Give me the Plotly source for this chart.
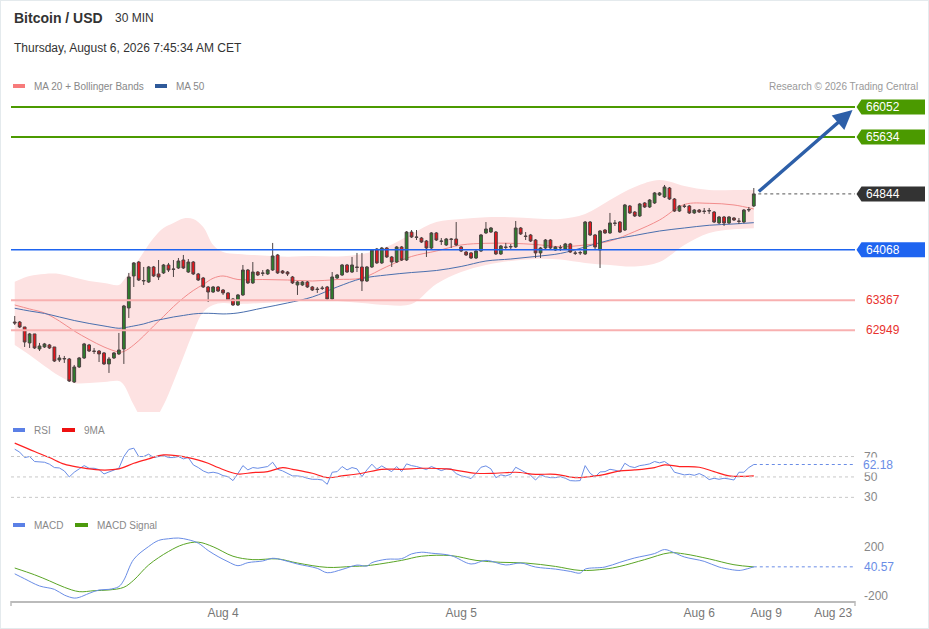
import plotly.graph_objects as go

W, H = 929, 629
FONT = "Liberation Sans, Arial, sans-serif"

# ---------------- data (30 min bars, index 0 = Aug 3 03:00) ----------------
bar_idx = list(range(150))
opens = [63063, 63063, 62994, 62772, 62897, 62688, 62716, 62744, 62716, 62535,
         62549, 62549, 62229, 62438, 62563, 62744, 62660, 62660, 62633, 62480,
         62563, 62619, 62688, 63258, 63703, 63897, 63633, 63619, 63828, 63731,
         63745, 63856, 63800, 63814, 63925, 63758, 63897, 63731, 63675, 63550,
         63480, 63550, 63508, 63467, 63383, 63300, 63439, 63786, 63606, 63758,
         63745, 63731, 63786, 63995, 63772, 63758, 63689, 63578, 63578, 63619,
         63550, 63522, 63536, 63550, 63383, 63675, 63717, 63856, 63758, 63828,
         63828, 63633, 63828, 64078, 63884, 64092, 63967, 63897, 64106, 63925,
         64314, 64245, 64231, 64189, 64092, 64301, 64189, 64134, 64217, 64217,
         64106, 64036, 64023, 63953, 64050, 64301, 64314, 64314, 64009, 64106,
         64106, 64106, 64370, 64259, 64273, 64203, 64023, 64092, 64203, 64064,
         64092, 64078, 64148, 64023, 64023, 64009, 64453, 64273, 64064, 64342,
         64301, 64440, 64453, 64342, 64676, 64592, 64537, 64718, 64662, 64718,
         64829, 64801, 64926, 64773, 64606, 64676, 64676, 64579, 64620, 64606,
         64606, 64592, 64440, 64523, 64440, 64509, 64467, 64453, 64620, 64676]
highs = [63147, 63077, 62994, 62911, 62897, 62772, 62772, 62758, 62716, 62605,
         62591, 62563, 62466, 62577, 62772, 62758, 62702, 62674, 62646, 62577,
         62646, 62911, 63300, 63745, 63897, 63911, 63828, 63842, 63842, 63925,
         63870, 63884, 63925, 63953, 63995, 63939, 63911, 63745, 63689, 63564,
         63564, 63564, 63522, 63480, 63397, 63453, 63856, 63800, 63897, 63772,
         63786, 63800, 64162, 64009, 63786, 63772, 63703, 63633, 63633, 63633,
         63564, 63550, 63564, 63564, 63758, 63731, 63870, 63870, 63967, 64023,
         64023, 63842, 64078, 64092, 64106, 64106, 63981, 64120, 64120, 64328,
         64342, 64342, 64245, 64203, 64314, 64314, 64231, 64231, 64231, 64453,
         64120, 64050, 64036, 64064, 64287, 64453, 64384, 64328, 64134, 64162,
         64148, 64467, 64384, 64314, 64287, 64217, 64106, 64217, 64217, 64120,
         64134, 64162, 64162, 64050, 64050, 64467, 64467, 64287, 64342, 64356,
         64579, 64481, 64467, 64704, 64690, 64606, 64718, 64731, 64773, 64870,
         64870, 64968, 64940, 64787, 64690, 64704, 64690, 64634, 64634, 64648,
         64648, 64606, 64537, 64537, 64537, 64523, 64509, 64634, 64662, 64926]
lows = [63022, 62980, 62716, 62702, 62688, 62660, 62702, 62688, 62507, 62507,
        62494, 62229, 62216, 62424, 62549, 62646, 62619, 62507, 62466, 62355,
        62549, 62605, 62480, 63119, 63550, 63633, 63578, 63606, 63689, 63647,
        63731, 63758, 63689, 63800, 63800, 63745, 63717, 63633, 63536, 63341,
        63467, 63480, 63439, 63355, 63286, 63286, 63425, 63592, 63592, 63703,
        63703, 63717, 63772, 63731, 63731, 63703, 63592, 63439, 63564, 63536,
        63494, 63467, 63508, 63369, 63369, 63661, 63703, 63745, 63745, 63758,
        63494, 63619, 63814, 63870, 63870, 63953, 63828, 63884, 63911, 63911,
        64231, 64203, 64162, 63967, 64078, 64189, 64134, 64120, 64092, 64120,
        64036, 63981, 63939, 63939, 64036, 64287, 64301, 63995, 63995, 64064,
        64064, 64092, 64273, 64203, 64175, 63953, 63953, 64078, 64078, 64050,
        64050, 64064, 64023, 63995, 63995, 63995, 64259, 64078, 63814, 64287,
        64287, 64398, 64301, 64328, 64565, 64523, 64523, 64648, 64648, 64704,
        64815, 64787, 64759, 64592, 64592, 64648, 64565, 64565, 64579, 64565,
        64565, 64440, 64426, 64398, 64426, 64467, 64426, 64440, 64592, 64662]
closes = [63050, 62994, 62785, 62897, 62702, 62730, 62758, 62702, 62521, 62563,
          62555, 62243, 62438, 62563, 62758, 62660, 62655, 62619, 62480, 62549,
          62633, 62674, 63286, 63689, 63884, 63647, 63640, 63828, 63703, 63689,
          63856, 63786, 63795, 63911, 63814, 63897, 63731, 63647, 63550, 63480,
          63550, 63494, 63467, 63369, 63300, 63439, 63786, 63606, 63758, 63717,
          63740, 63786, 63981, 63745, 63745, 63731, 63606, 63619, 63619, 63550,
          63508, 63515, 63530, 63383, 63689, 63717, 63856, 63758, 63856, 63822,
          63633, 63828, 64064, 63884, 64092, 63967, 63897, 64106, 63925, 64314,
          64245, 64240, 64175, 64092, 64301, 64203, 64185, 64217, 64212, 64134,
          64050, 63995, 63953, 64050, 64273, 64356, 64370, 64009, 64120, 64100,
          64112, 64370, 64287, 64252, 64189, 64023, 64092, 64203, 64092, 64106,
          64098, 64148, 64036, 64018, 64028, 64453, 64273, 64106, 64328, 64301,
          64440, 64434, 64314, 64690, 64579, 64537, 64704, 64662, 64759, 64857,
          64857, 64940, 64773, 64606, 64676, 64670, 64579, 64620, 64592, 64600,
          64612, 64453, 64523, 64440, 64523, 64481, 64462, 64620, 64626, 64844]

band_idx = [0, 3, 6, 9, 12, 15, 18, 21, 22, 24, 26, 28, 30, 32, 34, 36, 38, 40, 42, 45,
            50, 55, 60, 65, 70, 75, 80, 85, 90, 95, 100, 105, 110, 115, 120, 125, 130,
            135, 140, 145, 149]
bb_upper = [63623, 63703, 63731, 63731, 63682, 63633, 63606, 63578, 63647, 63828,
            64036, 64231, 64370, 64440, 64502, 64495, 64384, 64134, 64036, 64009,
            63988, 63971, 63981, 63974, 64009, 64110, 64287, 64453, 64495, 64519,
            64519, 64502, 64495, 64565, 64759, 64940, 65037, 64954, 64898, 64898, 64898]
ma20 = [63300, 63244, 63189, 63077, 62938, 62820, 62716, 62646, 62653, 62744,
        62869, 63008, 63140, 63276, 63397, 63501, 63585, 63671, 63703, 63654,
        63654, 63647, 63633, 63654, 63675, 63832, 63974, 64050, 64134, 64157,
        64157, 64141, 64110, 64134, 64189, 64321, 64481, 64697, 64713, 64690, 64634]
bb_lower = [62744, 62605, 62452, 62313, 62216, 62216, 62229, 62243, 62188, 61909,
            61701, 61701, 61909, 62229, 62577, 62924, 63202, 63300, 63328, 63314,
            63328, 63341, 63369, 63355, 63328, 63300, 63314, 63592, 63758, 63856,
            63911, 63939, 63932, 63884, 63856, 63835, 63897, 64134, 64301, 64352, 64366]
ma50 = [63254, 63216, 63182, 63133, 63084, 63043, 63008, 62976, 62983, 63008,
        63036, 63077, 63105, 63133, 63154, 63175, 63184, 63182, 63175, 63189,
        63258, 63328, 63411, 63550, 63668, 63717, 63751, 63779, 63835, 63911,
        63939, 63974, 64016, 64106, 64203, 64266, 64328, 64370, 64408, 64426, 64444]

rsi = [77.2, 74.3, 69.0, 70.0, 65.1, 65.1, 64.4, 62.5, 59.2, 58.8,
       55.9, 50.0, 54.6, 57.9, 61.1, 58.5, 58.5, 57.2, 52.9, 54.9,
       56.6, 58.5, 70.0, 76.9, 78.2, 70.0, 70.0, 72.3, 69.0, 70.0,
       71.0, 69.0, 69.0, 70.0, 67.7, 69.0, 61.8, 59.2, 55.9, 53.9,
       54.6, 53.6, 51.3, 50.3, 46.4, 53.3, 61.1, 56.9, 59.2, 58.5,
       59.2, 60.2, 64.4, 57.5, 55.9, 53.6, 51.0, 51.0, 50.3, 48.7,
       47.7, 47.7, 47.0, 42.8, 54.6, 55.2, 60.2, 56.9, 59.2, 57.9,
       50.3, 56.9, 62.5, 57.5, 60.8, 57.9, 55.2, 60.2, 55.2, 62.8,
       61.1, 60.2, 58.5, 57.2, 60.2, 58.2, 56.2, 57.9, 57.9, 53.3,
       51.0, 50.0, 48.4, 53.6, 59.5, 60.8, 57.9, 49.3, 52.0, 51.0,
       52.6, 59.5, 56.9, 54.9, 51.6, 47.0, 52.0, 50.3, 49.3, 49.3,
       50.3, 48.7, 46.4, 46.1, 46.4, 61.1, 53.6, 50.0, 54.9, 55.2,
       57.5, 56.6, 55.2, 63.4, 60.2, 59.2, 61.1, 61.8, 62.8, 65.1,
       63.8, 65.1, 61.8, 54.6, 53.3, 52.0, 52.6, 51.6, 53.3, 51.0,
       47.4, 48.7, 47.7, 48.7, 48.0, 47.0, 54.6, 54.6, 59.2, 62.18]
rsi_ma_idx = [0, 4, 7, 10, 13, 17, 21, 24, 27, 30, 35, 39, 41, 45, 48, 51, 54, 56, 60, 63,
              66, 70, 74, 78, 82, 87, 93, 97, 101, 105, 109, 113, 117, 119, 122, 125, 129,
              131, 134, 138, 141, 144, 149]
rsi_ma = [83.1, 74.9, 69.0, 62.5, 59.5, 56.9, 57.9, 63.4, 67.7, 71.6, 69.0, 63.4, 59.2,
          52.9, 54.3, 55.2, 59.2, 57.5, 53.6, 49.3, 51.0, 53.6, 57.5, 57.5, 58.5, 57.9,
          53.6, 53.6, 54.6, 52.6, 52.6, 49.3, 51.0, 52.6, 55.9, 56.9, 59.2, 61.8, 60.2,
          59.5, 55.2, 51.0, 51.0]

macd_idx = [0, 2, 5, 8, 10, 12, 13, 15, 17, 19, 21, 22, 24, 27, 29, 31, 33, 35, 37, 39,
            41, 43, 45, 47, 50, 52, 54, 57, 61, 63, 66, 69, 71, 72, 75, 78, 80, 82, 84, 88,
            92, 95, 99, 102, 105, 109, 112, 114, 115, 119, 122, 125, 129, 131, 133, 135,
            139, 142, 146, 147, 149]
macd = [-17, -58, -117, -145, -192, -217, -211, -178, -150, -145, -122, -69, 103, 208,
        258, 272, 278, 264, 236, 175, 125, 83, 50, 75, 89, 111, 97, 64, 28, -8, 19, 55,
        47, 75, 103, 108, 147, 161, 153, 133, 64, 94, 56, 72, 39, 22, 3, -11, 22, 39, 78,
        114, 150, 183, 156, 122, 86, 39, 11, 17, 40.57]
signal_idx = [0, 4, 7, 10, 13, 16, 19, 22, 24, 27, 31, 34, 37, 40, 44, 48, 53, 57, 63, 68,
              71, 78, 82, 88, 93, 98, 103, 109, 114, 119, 122, 127, 132, 135, 140, 145, 149]
macd_signal = [31, -25, -75, -128, -164, -156, -150, -128, -69, 56, 167, 225, 244, 206,
               128, 100, 106, 72, 36, 44, 50, 94, 128, 133, 94, 78, 72, 44, 11, 22, 44,
               100, 156, 147, 106, 58, 40]

resistances = [66052, 65634]
pivot = 64068
supports = [63367, 62949]
last_price = 64844
target_price = 66010
tick_idx = [42, 90, 138, 151.5, 165]
tick_labels = ["Aug 4", "Aug 5", "Aug 6", "Aug 9", "Aug 23"]
rsi_levels = [70, 50, 30]
macd_levels = [200, -200]

# ---------------- layout geometry ----------------
X_DOM = [11 / W, 855 / W]
X_RNG = [-0.75, 169.4]
P_DOM = [1 - 412 / H, 1 - 97 / H]
P_RNG = [61812, 66191]
R_DOM = [1 - 505 / H, 1 - 440 / H]
R_RNG = [22.5, 86.2]
M_DOM = [1 - 601 / H, 1 - 535 / H]
M_RNG = [-241, 303]


def to_paper(v, rng, dom):
    return dom[0] + (v - rng[0]) / (rng[1] - rng[0]) * (dom[1] - dom[0])


GREEN = "#4b9a00"
BLUE = "#1e64f0"
PINK = "#f8b0b0"
IND_BLUE = "#6a8de6"

fig = go.Figure()

# bollinger band fill + moving averages (bottom layer)
fig.add_trace(go.Scatter(x=band_idx, y=bb_upper, mode="lines", line=dict(width=0, shape="spline"),
                         hoverinfo="skip", showlegend=False))
fig.add_trace(go.Scatter(x=band_idx, y=bb_lower, mode="lines", line=dict(width=0, shape="spline"),
                         fill="tonexty", fillcolor="#fde2e2", hoverinfo="skip", showlegend=False))
fig.add_trace(go.Scatter(x=band_idx, y=ma20, mode="lines",
                         line=dict(color="#f28c8c", width=1, shape="spline"), showlegend=False))
fig.add_trace(go.Scatter(x=band_idx, y=ma50, mode="lines",
                         line=dict(color="#4a6fae", width=1, shape="spline"), showlegend=False))

# candles on an overlaying axis so they sit above the band fill
fig.add_trace(go.Candlestick(
    x=bar_idx, open=opens, high=highs, low=lows, close=closes, yaxis="y4",
    increasing=dict(line=dict(color="#4d4343", width=1), fillcolor="#2b7f2b"),
    decreasing=dict(line=dict(color="#4d4343", width=1), fillcolor="#e8141b"),
    whiskerwidth=0, showlegend=False, hoverinfo="skip"))

# RSI panel
fig.add_trace(go.Scatter(x=bar_idx, y=rsi, mode="lines", yaxis="y2",
                         line=dict(color=IND_BLUE, width=1), showlegend=False))
fig.add_trace(go.Scatter(x=rsi_ma_idx, y=rsi_ma, mode="lines", yaxis="y2",
                         line=dict(color="#ff2020", width=1.2, shape="spline"), showlegend=False))

# MACD panel
fig.add_trace(go.Scatter(x=signal_idx, y=macd_signal, mode="lines", yaxis="y3",
                         line=dict(color="#5aa526", width=1, shape="spline"), showlegend=False))
fig.add_trace(go.Scatter(x=macd_idx, y=macd, mode="lines", yaxis="y3",
                         line=dict(color=IND_BLUE, width=1, shape="spline"), showlegend=False))

shapes = []
annotations = []


def hline(y, yref, color, width, dash="solid", x0=None):
    shapes.append(dict(type="line", xref="paper" if x0 is None else "x", yref=yref,
                       x0=X_DOM[0] if x0 is None else x0,
                       x1=X_DOM[1] if x0 is None else X_RNG[1],
                       y0=y, y1=y, line=dict(color=color, width=width, dash=dash)))


def tag(level, color):
    yc = to_paper(level, P_RNG, P_DOM)
    hh = 7.5 / H
    xt, xl, xr = 856.5 / W, 861.5 / W, 925 / W
    shapes.append(dict(type="path", xref="paper", yref="paper",
                       path=f"M {xt},{yc} L {xl},{yc + hh} L {xr},{yc + hh} L {xr},{yc - hh} L {xl},{yc - hh} Z",
                       fillcolor=color, line=dict(width=0)))
    annotations.append(dict(xref="paper", yref="paper", x=864 / W, y=yc, text=str(level),
                            showarrow=False, xanchor="left", yanchor="middle",
                            font=dict(color="white", size=12, family=FONT)))


for r in resistances:
    hline(r, "y", GREEN, 2)
    tag(r, GREEN)
hline(pivot, "y", BLUE, 1.5)
tag(pivot, BLUE)
for s in supports:
    hline(s, "y", PINK, 2)
    annotations.append(dict(xref="paper", yref="paper", x=864 / W, y=to_paper(s, P_RNG, P_DOM),
                            text=str(s), showarrow=False, xanchor="left", yanchor="middle",
                            font=dict(color="#e8322e", size=12, family=FONT)))
hline(last_price, "y", "#555555", 1, "dot", x0=bar_idx[-1] + 0.9)
tag(last_price, "#333333")

# projection arrow
annotations.append(dict(x=168.9, y=target_price, ax=bar_idx[-1] + 0.7, ay=last_price + 15,
                        xref="x", yref="y", axref="x", ayref="y", text="", showarrow=True,
                        arrowhead=2, arrowsize=1.1, arrowwidth=3.5, arrowcolor="#2d5fa8"))

# RSI levels
for lv in rsi_levels:
    hline(lv, "y2", "#c8c8c8", 1, "dot", x0=X_RNG[0])
    annotations.append(dict(xref="paper", yref="paper", x=862 / W, y=to_paper(lv, R_RNG, R_DOM),
                            text=str(lv), showarrow=False, xanchor="left", yanchor="middle",
                            font=dict(color="#888888", size=12, family=FONT)))
hline(rsi[-1], "y2", IND_BLUE, 1, "dot", x0=bar_idx[-1])
annotations.append(dict(xref="paper", yref="paper", x=862 / W, y=to_paper(rsi[-1], R_RNG, R_DOM),
                        text=f"{rsi[-1]:.2f}", showarrow=False, xanchor="left", yanchor="middle",
                        bgcolor="white", borderpad=0,
                        font=dict(color=IND_BLUE, size=12, family=FONT)))

# MACD levels
for lv in macd_levels:
    annotations.append(dict(xref="paper", yref="paper", x=862 / W, y=to_paper(lv, M_RNG, M_DOM),
                            text=str(lv), showarrow=False, xanchor="left", yanchor="middle",
                            font=dict(color="#888888", size=12, family=FONT)))
hline(macd[-1], "y3", IND_BLUE, 1, "dot", x0=macd_idx[-1])
annotations.append(dict(xref="paper", yref="paper", x=862 / W, y=to_paper(macd[-1], M_RNG, M_DOM),
                        text=f"{macd[-1]:.2f}", showarrow=False, xanchor="left", yanchor="middle",
                        font=dict(color=IND_BLUE, size=12, family=FONT)))

# x axis end ticks
for xp in X_DOM:
    shapes.append(dict(type="line", xref="paper", yref="paper", x0=xp, x1=xp,
                       y0=1 - 601 / H, y1=1 - 606 / H, line=dict(color="#bbbbbb", width=1.5)))


# legends (swatch + label) and header texts
def swatch(x0, x1, yc_px, color):
    shapes.append(dict(type="rect", xref="paper", yref="paper", x0=x0 / W, x1=x1 / W,
                       y0=1 - (yc_px + 2) / H, y1=1 - (yc_px - 2) / H,
                       fillcolor=color, line=dict(width=0)))


def label(x_px, y_px, text, size=10, color="#888888", anchor="left", bold=False):
    annotations.append(dict(xref="paper", yref="paper", x=x_px / W, y=1 - y_px / H,
                            text=f"<b>{text}</b>" if bold else text, showarrow=False,
                            xanchor=anchor, yanchor="middle",
                            font=dict(color=color, size=size, family=FONT)))


label(12, 18, "Bitcoin / USD", size=14, color="#333333", bold=True)
label(113, 18, "30 MIN", size=12, color="#333333")
label(12, 48, "Thursday, August 6, 2026 7:45:34 AM CET", size=12, color="#333333")

swatch(13, 25, 86, "#f77b7b")
label(32, 86, "MA 20 + Bollinger Bands")
swatch(155, 167, 86, "#2f5a9a")
label(174, 86, "MA 50")
label(920, 86, "Research \u00a9 2026 Trading Central", color="#999999", anchor="right")

swatch(13, 25, 430, "#5b80e6")
label(32, 430, "RSI")
swatch(62, 75, 430, "#ee1111")
label(82, 430, "9MA")

swatch(13, 25, 525, "#5b80e6")
label(32, 525, "MACD")
swatch(75, 88, 525, "#4c9a0c")
label(95, 525, "MACD Signal")

# frame
shapes.append(dict(type="rect", xref="paper", yref="paper", x0=0, x1=1, y0=0, y1=1,
                   line=dict(color="#e4eaed", width=2)))

fig.update_layout(
    width=W, height=H, margin=dict(l=0, r=0, t=0, b=0),
    paper_bgcolor="white", plot_bgcolor="rgba(0,0,0,0)",
    font=dict(family=FONT, color="#777777"),
    showlegend=False, boxgap=0.2, hovermode=False,
    xaxis=dict(domain=X_DOM, range=X_RNG, anchor="y3", rangeslider=dict(visible=False),
               showgrid=False, zeroline=False, showline=True, linecolor="#bbbbbb", linewidth=2,
               tickmode="array", tickvals=tick_idx, ticktext=tick_labels, ticks="",
               tickfont=dict(size=12, color="#777777", family=FONT)),
    yaxis=dict(domain=P_DOM, range=P_RNG, visible=False, showgrid=False),
    yaxis2=dict(domain=R_DOM, range=R_RNG, visible=False, showgrid=False),
    yaxis3=dict(domain=M_DOM, range=M_RNG, visible=False, showgrid=False),
    yaxis4=dict(overlaying="y", range=P_RNG, visible=False, showgrid=False),
    shapes=shapes, annotations=annotations,
)

fig.write_html("out.html", config={"displayModeBar": False},
               post_script="document.body.style.margin='0';")
